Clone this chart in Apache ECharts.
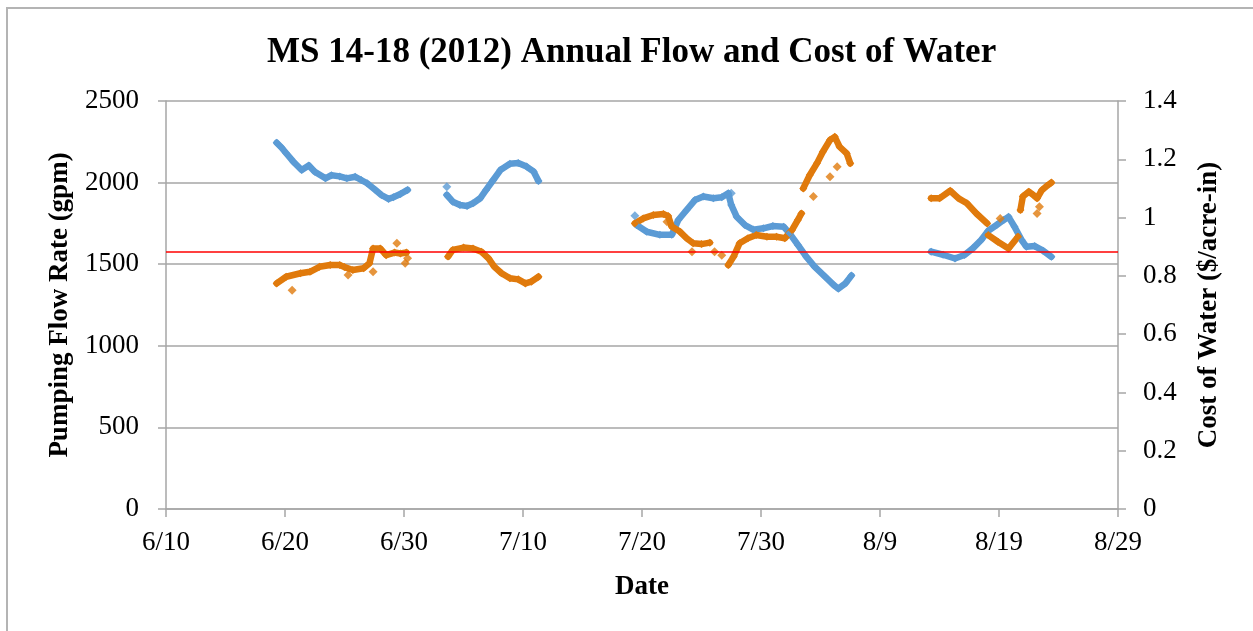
<!DOCTYPE html>
<html>
<head>
<meta charset="utf-8">
<script src="https://cdn.jsdelivr.net/npm/echarts@6/dist/echarts.min.js"></script>
<style>
html,body{margin:0;padding:0;background:#fff;}
#frame{position:absolute;left:6px;top:7px;width:1247px;height:624px;border-left:2px solid #b4b4b4;border-top:2px solid #b4b4b4;}
#chart{position:absolute;left:0;top:0;width:1253px;height:631px;}
</style>
</head>
<body>
<div id="frame"></div>
<div id="chart"></div>
<script>
// x values = days after 6/10/2012
const xTicks = ['6/10','6/20','6/30','7/10','7/20','7/30','8/9','8/19','8/29'];

// Pumping flow rate (gpm), left axis — continuous runs
const flowRun1 = [[9.3,2244],[9.7,2215],[10.1,2180],[10.7,2128],[11.4,2077],[12.0,2105],[12.5,2067],[13.4,2026],[13.9,2045],[14.6,2038],[15.2,2026],[15.9,2036],[16.4,2016],[16.9,1996],[17.6,1955],[18.1,1924],[18.7,1900],[19.1,1910],[19.7,1930],[20.3,1955]];
const flowRun2 = [[23.6,1924],[24.1,1883],[24.7,1863],[25.3,1857],[25.8,1873],[26.4,1904],[26.9,1955],[27.5,2016],[28.1,2077],[28.9,2115],[29.6,2120],[30.3,2098],[30.9,2067],[31.3,2010]];
const flowRun3 = [[39.55,1740],[40.4,1699],[41.5,1680],[42.5,1680],[43.05,1771],[43.75,1832],[44.45,1893],[45.15,1915],[46.0,1904],[46.7,1910],[47.25,1935],[47.5,1863],[47.95,1791],[48.65,1740],[49.35,1712],[50.2,1720],[51.0,1734],[51.9,1730],[52.4,1689],[53.1,1618],[53.8,1546],[54.5,1485],[55.4,1423],[56.1,1373],[56.5,1350],[57.1,1383],[57.6,1430]];
const flowRun4 = [[64.3,1577],[65.3,1558],[66.3,1535],[67.1,1556],[67.8,1597],[68.5,1648],[69.1,1705],[69.8,1740],[70.4,1771],[70.8,1790],[71.3,1730],[71.9,1648],[72.3,1607],[73.0,1611],[73.7,1583],[74.4,1545]];
const flowOutliers = [[23.6,1975],[39.4,1797],[47.5,1935]];

// Cost of water ($/acre-in), right axis — continuous runs
const costRun1 = [[9.3,0.774],[10.1,0.797],[11.3,0.809],[12.1,0.814],[12.9,0.831],[13.8,0.837],[14.6,0.837],[15.0,0.830],[15.7,0.820],[16.6,0.826],[17.1,0.843],[17.4,0.894],[18.0,0.894],[18.5,0.871],[19.2,0.880],[19.7,0.877],[20.2,0.880]];
const costRun2 = [[23.7,0.866],[24.1,0.889],[25.0,0.897],[25.8,0.894],[26.5,0.883],[27.1,0.860],[27.6,0.831],[28.2,0.809],[28.9,0.792],[29.6,0.788],[30.2,0.774],[30.7,0.780],[31.3,0.797]];
const costRun3 = [[39.4,0.980],[40.1,0.997],[40.95,1.009],[41.8,1.012],[42.2,1.005],[42.5,0.969],[43.2,0.951],[43.75,0.929],[44.3,0.912],[45.0,0.909],[45.7,0.914]];
const costRun4 = [[47.25,0.837],[47.7,0.866],[48.2,0.912],[48.9,0.929],[49.6,0.940],[50.5,0.934],[51.3,0.934],[52.0,0.929],[52.6,0.957],[53.1,0.992],[53.4,1.014]];
const costRun5 = [[53.55,1.100],[54.1,1.146],[54.7,1.186],[55.2,1.226],[55.8,1.266],[56.2,1.277],[56.6,1.243],[57.2,1.220],[57.5,1.186]];
const costRun6 = [[64.3,1.066],[65.0,1.066],[65.9,1.092],[66.6,1.066],[67.3,1.049],[68.1,1.014],[69.0,0.980]];
const costRun7 = [[69.1,0.940],[69.9,0.917],[70.8,0.894],[71.6,0.934]];
const costRun8 = [[71.8,1.026],[72.0,1.072],[72.5,1.089],[72.9,1.077],[73.2,1.066],[73.6,1.094],[74.0,1.108],[74.4,1.120]];
const costOutliers = [[10.6,0.751],[15.3,0.803],[17.4,0.814],[19.4,0.912],[20.1,0.843],[20.3,0.860],[42.1,0.986],[44.2,0.883],[46.1,0.883],[46.7,0.871],[54.4,1.072],[55.8,1.140],[56.4,1.174],[70.1,0.997],[73.2,1.014],[73.4,1.037]];

const referenceFlow = 1575;

const BLUE = '#5B9BD5', ORANGE = '#E07A0C', GRID = '#a6a6a6';
const FONT = 'Liberation Serif';

const chart = echarts.init(document.getElementById('chart'), null, {renderer:'canvas'});

function lineRun(data, color, yIdx){
  return {type:'line', data:data, yAxisIndex:yIdx, showSymbol:true, symbol:'diamond', symbolSize:8, smooth:false,
    lineStyle:{color:color, width:6.5, cap:'round', join:'round'}, itemStyle:{color:color}, silent:true, animation:false, z:3};
}
function dots(data, color, yIdx){
  return {type:'scatter', data:data, yAxisIndex:yIdx, symbol:'diamond', symbolSize:9, itemStyle:{color:color}, silent:true, animation:false, z:3};
}

const series = [];
[flowRun1, flowRun2, flowRun3, flowRun4].forEach(r => series.push(lineRun(r, BLUE, 0)));
series.push(dots(flowOutliers, BLUE, 0));
[costRun1, costRun2, costRun3, costRun4, costRun5, costRun6, costRun7, costRun8].forEach(r => series.push(lineRun(r, ORANGE, 1)));
series.push(dots(costOutliers, ORANGE, 1));
// reference line
series.push({type:'line', data:[], yAxisIndex:0, silent:true, animation:false,
  markLine:{silent:true, symbol:['none','none'], label:{show:false}, lineStyle:{color:'#ff0000', width:1.5, type:'solid'},
    data:[{yAxis: referenceFlow}]}, z:5});

const axisText = {fontFamily:FONT, fontSize:27, color:'#000'};

chart.setOption({
  animation:false,
  backgroundColor:'transparent',
  title:{text:'MS 14-18 (2012) Annual Flow and Cost of Water', left:262, top:30,
    textStyle:{fontFamily:FONT, fontWeight:'bold', fontSize:35, color:'#000'}},
  grid:{left:166, right:135, top:101, bottom:122, containLabel:false},
  xAxis:{type:'value', min:0, max:80, interval:10,
    name:'Date', nameLocation:'middle', nameGap:65,
    nameTextStyle:{fontFamily:FONT, fontWeight:'bold', fontSize:27, color:'#000'},
    axisLine:{lineStyle:{color:GRID, width:1.5}},
    axisTick:{show:true, length:8, lineStyle:{color:GRID, width:1.5}},
    splitLine:{show:false},
    axisLabel:Object.assign({margin:20, formatter:(v)=>xTicks[Math.round(v/10)]}, axisText)},
  yAxis:[
    {type:'value', min:0, max:2500, interval:500, position:'left',
      name:'Pumping Flow Rate (gpm)', nameLocation:'middle', nameGap:92, nameRotate:90,
      nameTextStyle:{fontFamily:FONT, fontWeight:'bold', fontSize:27, color:'#000'},
      axisLine:{show:true, lineStyle:{color:GRID, width:1.5}},
      axisTick:{show:true, length:8, lineStyle:{color:GRID, width:1.5}},
      splitLine:{show:true, lineStyle:{color:GRID, width:1.5}},
      axisLabel:Object.assign({margin:27, formatter:(v)=>String(v)}, axisText)},
    {type:'value', min:0, max:1.4, interval:0.2, position:'right',
      name:'Cost of Water ($/acre-in)', nameLocation:'middle', nameGap:78, nameRotate:90,
      nameTextStyle:{fontFamily:FONT, fontWeight:'bold', fontSize:27, color:'#000'},
      axisLine:{show:true, lineStyle:{color:GRID, width:1.5}},
      axisTick:{show:true, length:8, lineStyle:{color:GRID, width:1.5}},
      splitLine:{show:false},
      axisLabel:Object.assign({margin:25, formatter:(v)=>String(Math.round(v*10)/10)}, axisText)}
  ],
  series:series
});
</script>
</body>
</html>
